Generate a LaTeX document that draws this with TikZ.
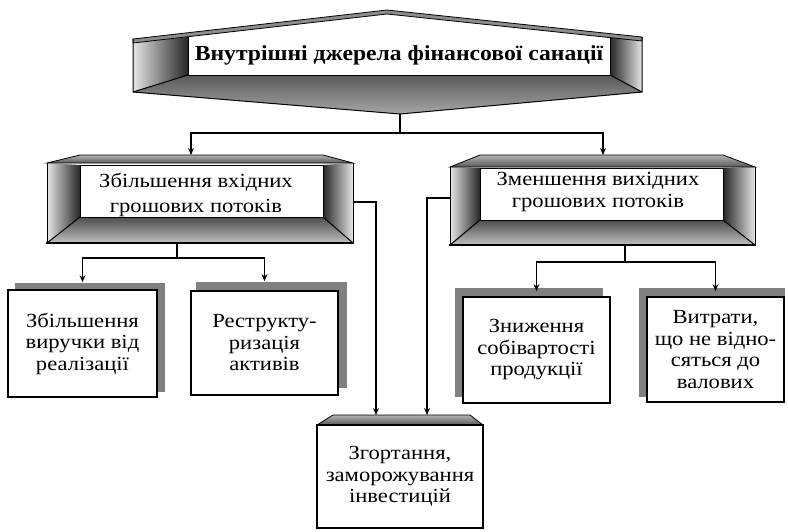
\documentclass[tikz,border=0pt]{standalone}
\usepackage{fontspec}
\setmainfont{Liberation Serif}
\newfontfamily\boxfont[FakeStretch=1.13]{Liberation Serif}
\newfontfamily\headfont[FakeStretch=1.1]{Liberation Serif}
\usetikzlibrary{arrows.meta}
\begin{document}
\begin{tikzpicture}[x=1pt,y=-1pt,
  conn/.style={draw=black, line width=1.1pt},
  arr/.style={conn, -{Stealth[length=7pt,width=6pt]}},
  edge/.style={draw=black, line width=1pt},
  roofband/.style={draw=black, line width=0.8pt, top color=black!30, bottom color=black!65},
  lpanel/.style={left color=black!10, right color=black!85},
  rpanel/.style={left color=black!85, right color=black!10},
  floor/.style={top color=black!70, bottom color=black!25},
  face/.style={fill=white, draw=black, line width=0.6pt, inner sep=0pt},
  label/.style={align=center, inner sep=0pt, font=\boxfont\fontsize{20}{25}\selectfont},
  card/.style={draw=black, line width=1.8pt, fill=white, inner sep=0pt, align=center,
               font=\boxfont\fontsize{20}{21.5}\selectfont},
  cardshadow/.style={fill=black!50, draw=none}]
\useasboundingbox (0,0) rectangle (788,531);
\fill[white] (0,0) rectangle (788,531);

% ---------- title banner ----------
\shade[lpanel] (133,43) -- (188,37) -- (188,75) -- (133,92) -- cycle;
\shade[rpanel] (610,37) -- (642,41) -- (642,92) -- (610,75) -- cycle;
\shade[top color=black!65, bottom color=black!35] (188,75) -- (610,75) -- (642,92) -- (400,114) -- (133,92) -- cycle;
\fill[white] (188,75) -- (188,37) -- (387,14) -- (610,37) -- (610,75) -- cycle;
\filldraw[fill=black!45, draw=black, line width=0.8pt] (133,39) -- (387,10) -- (642,37) -- (642,41) -- (387,14) -- (133,43) -- cycle;
\draw[edge] (133,39) -- (133,92) -- (400,114) -- (642,92) -- (642,37);
\draw[edge] (188,37) -- (188,75) -- (610,75) -- (610,37);
\draw[edge] (188,75) -- (133,92) (610,75) -- (642,92);
\node[font=\headfont\bfseries\fontsize{21.5}{24}\selectfont, inner sep=0pt] (title) at (399,55)
  {Внутрішні джерела фінансової санації};
\coordinate (topfoot) at (400,114);

% ---------- left middle frame ----------
\shade[lpanel] (47,163) -- (80,165) -- (80,217) -- (47,243) -- cycle;
\shade[rpanel] (323,165) -- (353,163) -- (353,243) -- (323,217) -- cycle;
\shade[floor] (80,217) -- (323,217) -- (353,243) -- (47,243) -- cycle;
\shade[roofband] (47,163) -- (80,155) -- (323,155) -- (353,163) -- cycle;
\node[face, minimum width=243pt, minimum height=52pt] (mb1) at (201.5,191) {};
\draw[edge] (47,163) -- (47,243) (353,243) -- (353,163);
\draw[draw=black, line width=2pt] (46,243) -- (354,243);
\draw[edge] (80,217) -- (47,243) (323,217) -- (353,243);
\node[label] (mb1t) at (196,195) {Збільшення вхідних\\грошових потоків};

% ---------- right middle frame ----------
\shade[lpanel] (450,167) -- (480,168) -- (480,220) -- (450,245) -- cycle;
\shade[rpanel] (723,168) -- (755,167) -- (755,245) -- (723,220) -- cycle;
\shade[floor] (480,220) -- (723,220) -- (755,245) -- (450,245) -- cycle;
\shade[roofband] (450,167) -- (480,155) -- (723,155) -- (755,167) -- cycle;
\node[face, minimum width=243pt, minimum height=52pt] (mb2) at (601.5,194) {};
\draw[edge] (450,167) -- (450,245) (755,245) -- (755,167);
\draw[draw=black, line width=2pt] (449,245) -- (756,245);
\draw[edge] (480,220) -- (450,245) (723,220) -- (755,245);
\node[label, font=\boxfont\fontsize{20}{22}\selectfont] (mb2t) at (598,192) {Зменшення вихідних\\грошових потоків};

% ---------- lower cards ----------
\fill[cardshadow] (15,283) rectangle (165,392);
\node[card, minimum width=149pt, minimum height=107pt] (b1) at (82.5,343.5)
  {Збільшення\\виручки від\\реалізації};
\fill[cardshadow] (196,282) rectangle (347,388);
\node[card, minimum width=147pt, minimum height=104pt] (b2) at (264.5,343)
  {Реструкту-\\ризація\\активів};
\fill[cardshadow] (455,288) rectangle (603,397);
\node[card, minimum width=147pt, minimum height=106pt] (b3) at (536.5,350)
  {Зниження\\собівартості\\продукції};
\fill[cardshadow] (639,288) rectangle (785,397);
\node[card, minimum width=137pt, minimum height=105pt] (b4) at (715.5,349.5)
  {Витрати,\\що не відно-\\сяться до\\валових};

% ---------- bottom card with roof ----------
\shade[roofband] (317,425) -- (333,415) -- (470,415) -- (483,425) -- cycle;
\node[card, minimum width=166pt, minimum height=103pt] (b5) at (400,476.5)
  {Згортання,\\заморожування\\інвестицій};

% ---------- connectors ----------
\coordinate (j0) at (400,133);
\coordinate (mb1in) at (191,155);
\coordinate (mb2in) at (603,155);
\draw[draw=black, line width=2pt] (topfoot) -- (j0);
\draw[arr] (j0) -| (mb1in);
\draw[arr] (j0) -| (mb2in);

\coordinate (mb1foot) at (177,243);
\coordinate (j1) at (177,258);
\draw[conn] (mb1foot) -- (j1);
\draw[arr] (j1) -| ([yshift=7pt]b1.north);
\draw[arr] (j1) -| ([yshift=9pt]b2.north);

\coordinate (mb2foot) at (625,245);
\coordinate (j2) at (625,262);
\draw[conn] (mb2foot) -- (j2);
\draw[arr] (j2) -| ([yshift=5pt]b3.north);
\draw[arr] (j2) -| ([yshift=5pt]b4.north);

\coordinate (mb1side) at (353,202);
\coordinate (b5inL) at (376,415);
\draw[arr] (mb1side) -| (b5inL);
\coordinate (mb2side) at (450,198);
\coordinate (b5inR) at (427,415);
\draw[arr] (mb2side) -| (b5inR);
\end{tikzpicture}
\end{document}
